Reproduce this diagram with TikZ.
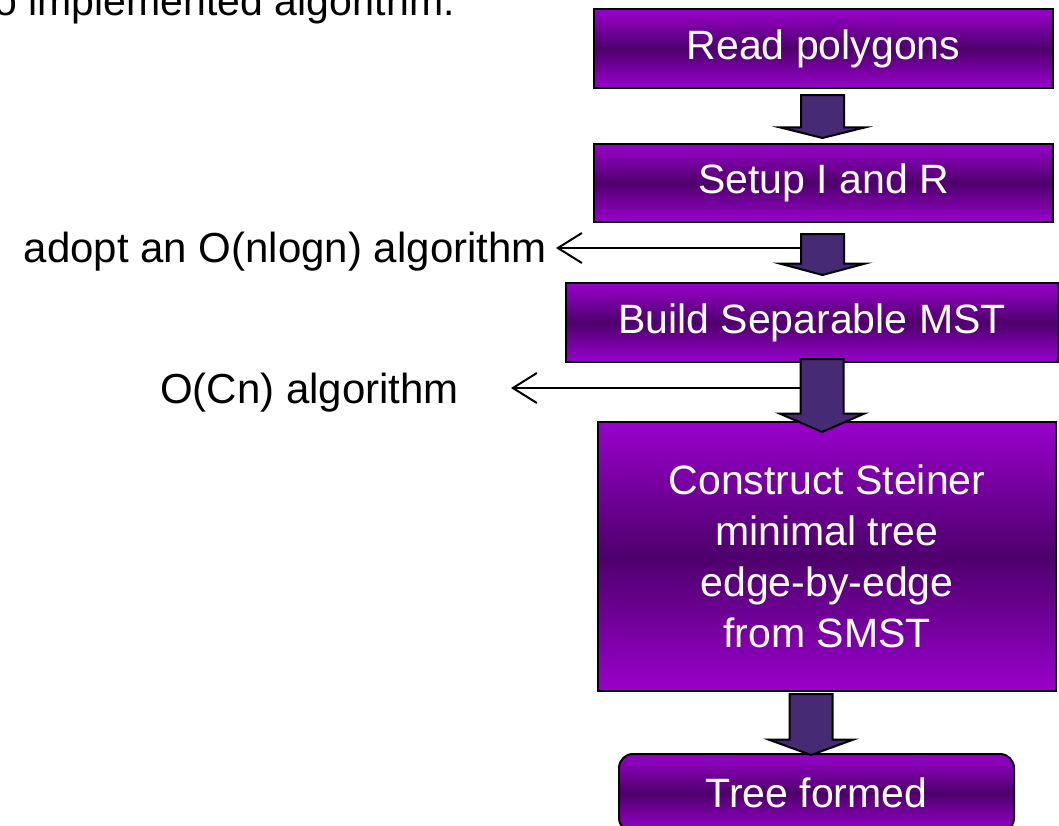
\documentclass[tikz,border=0pt]{standalone}
\usepackage{fontspec}
\setmainfont{Liberation Sans}
\usetikzlibrary{arrows.meta,positioning,shapes.arrows,backgrounds}
\definecolor{plum}{RGB}{153,0,204}
\definecolor{darkplum}{RGB}{78,0,108}
\definecolor{arrowfill}{RGB}{70,42,115}

\begin{document}
\begin{tikzpicture}[x=1pt,y=-1pt,stage/.style={draw,line width=2pt,top color=plum,bottom color=plum,middle color=darkplum,text=white,align=center,inner sep=0pt,font=\fontsize{41}{51}\selectfont},flow/.style={single arrow,draw,line width=2pt,fill=arrowfill,rotate=-90,anchor=tail,inner xsep=0pt,inner ysep=20.5pt,minimum width=83pt,single arrow head extend=21pt},note/.style={anchor=base east,inner sep=0pt,font=\fontsize{42}{50}\selectfont},sidearr/.style={line width=2pt,-{Straight Barb[length=24pt,width=30pt]}}]
\useasboundingbox (0,0) rectangle (1059,825);
\node[anchor=base east,inner sep=0pt,font=\fontsize{41}{50}\selectfont] (intro) at (455,15) {o implemented algorithm.};
% the stages of the flow
\node[stage,minimum width=459pt,minimum height=79pt] (read) at (823.5,48.5) {Read polygons};
\node[stage,minimum width=459pt,minimum height=78pt] (setup) at (823.5,183) {Setup I and R};
\node[stage,minimum width=492pt,minimum height=79pt] (build) at (812,322.5) {Build Separable MST};
\node[stage,minimum width=458pt,minimum height=269pt] (steiner) at (827,556.5) {Construct Steiner\\minimal tree\\edge-by-edge\\from SMST};
\node[stage,rounded corners=14pt,minimum width=395pt,minimum height=78pt] (tree) at (816.5,793) {Tree formed};
% block arrows between stages
\node[flow,minimum height=43pt,single arrow tip angle=152] (a1) at (822.5,94) {};
\node[flow,minimum height=41pt,single arrow tip angle=150] (a2) at (822.5,233) {};
\node[flow,minimum height=73pt,single arrow tip angle=133] (a3) at (822,358) {};
\node[flow,minimum height=61pt,single arrow tip angle=140] (a4) at (811,693) {};
% complexity notes
\node[note] (adopt) at (547,262) {adopt an O(nlogn) algorithm};
\node[note] (cn) at (459,403) {O(Cn) algorithm};
\coordinate (adopttip) at (556,248);
\coordinate (cntip) at (511,388);
\begin{scope}[on background layer]
\draw[sidearr] (a2.center |- adopttip) -- (adopttip);
\draw[sidearr] (a3.center |- cntip) -- (cntip);
\end{scope}
\end{tikzpicture}
\end{document}
